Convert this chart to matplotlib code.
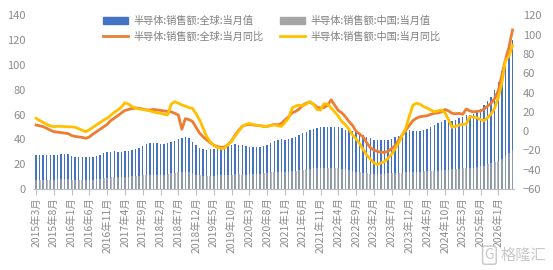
import numpy as np
import pandas as pd
import matplotlib
matplotlib.use("Agg")
import matplotlib.pyplot as plt
from matplotlib.patches import Patch
from matplotlib.lines import Line2D

plt.rcParams['font.family'] = ['Noto Sans CJK SC', 'DejaVu Sans']

# ---------------------------------------------------------------
# Data (monthly, 2015-03 .. 2026-05)
# ---------------------------------------------------------------
months = pd.period_range('2015-03', periods=135, freq='M')

tick_labels = ['2015年3月', '2015年8月', '2016年1月', '2016年6月', '2016年11月',
               '2017年4月', '2017年9月', '2018年2月', '2018年7月', '2018年12月',
               '2019年5月', '2019年10月', '2020年3月', '2020年8月', '2021年1月',
               '2021年6月', '2021年11月', '2022年4月', '2022年9月', '2023年2月',
               '2023年7月', '2023年12月', '2024年5月', '2024年10月', '2025年3月',
               '2025年8月', '2026年1月']

# 半导体:销售额:全球:当月值 (left axis)
global_sales = [
    27.5, 27.4, 27.6, 27.7, 27.5, 27.4, 27.8, 28.3, 28.6, 28.3,
    26.8, 26.0, 25.7, 25.6, 25.8, 25.6, 25.9, 26.6, 27.6, 28.9,
    29.7, 30.2, 30.4, 30.1, 30.0, 30.4, 30.9, 31.5, 32.3, 33.4,
    35.0, 36.3, 37.2, 37.4, 37.1, 36.4, 36.6, 37.4, 38.2, 39.1,
    40.2, 40.8, 41.6, 41.0, 38.0, 35.2, 33.0, 32.2, 31.8, 32.0,
    32.4, 33.2, 33.0, 33.4, 34.5, 35.8, 36.3, 35.9, 35.2, 34.4,
    34.0, 33.8, 33.9, 34.0, 34.5, 35.6, 37.3, 38.6, 39.6, 40.0,
    39.6, 40.3, 41.2, 42.1, 43.4, 44.8, 46.3, 47.5, 48.6, 49.4,
    50.1, 50.3, 50.0, 49.8, 50.2, 50.4, 49.5, 48.0, 47.3, 46.6,
    46.0, 45.2, 43.6, 42.1, 40.9, 39.8, 39.4, 39.3, 39.6, 39.8,
    40.7, 41.9, 42.8, 43.6, 45.8, 47.9, 47.2, 46.8, 47.0, 47.3,
    48.6, 50.1, 51.7, 53.0, 54.2, 56.0, 55.3, 54.6, 55.6, 57.0,
    58.2, 59.5, 59.6, 60.5, 62.8, 64.8, 67.4, 71.0, 74.2, 79.5,
    86.0, 95.5, 103.0, 109.5, 120.0]

# 半导体:销售额:中国:当月值 (left axis)
china_sales = [
    7.3, 7.2, 7.4, 7.5, 7.4, 7.5, 7.7, 7.9, 8.1, 8.0,
    7.6, 7.4, 7.3, 7.2, 7.3, 7.3, 7.4, 7.8, 8.2, 8.6,
    9.0, 9.3, 9.5, 9.5, 9.6, 9.7, 9.9, 10.1, 10.4, 10.7,
    11.0, 11.3, 11.6, 11.7, 11.6, 11.5, 11.7, 12.0, 12.6, 13.2,
    13.7, 14.0, 14.1, 13.6, 12.6, 11.5, 11.0, 10.8, 10.6, 10.7,
    10.8, 11.0, 11.0, 11.2, 11.4, 11.6, 11.8, 11.8, 11.6, 11.6,
    11.8, 12.0, 12.1, 12.3, 12.6, 13.0, 13.4, 13.8, 14.0, 14.0,
    13.9, 14.0, 14.3, 14.6, 15.0, 15.4, 15.8, 16.2, 16.6, 16.8,
    16.9, 17.0, 16.9, 16.8, 16.8, 16.7, 16.4, 15.9, 15.3, 14.7,
    14.1, 13.6, 13.1, 12.7, 12.4, 12.3, 12.3, 12.3, 12.5, 12.6,
    12.7, 12.9, 13.1, 13.3, 13.6, 13.9, 14.0, 14.0, 14.1, 14.2,
    14.3, 14.5, 14.7, 14.9, 15.2, 15.5, 15.7, 15.8, 16.0, 16.4,
    16.6, 16.8, 17.0, 17.3, 17.8, 18.3, 18.9, 19.8, 20.7, 21.5,
    22.8, 24.5, 26.3, 28.8, 31.5]

# 半导体:销售额:全球:当月同比 (right axis, %)
global_yoy = [
    6.4, 5.5, 4.7, 3.0, 1.0, -0.5, -1.0, -1.5, -2.0, -2.5,
    -4.5, -5.5, -6.0, -6.5, -7.4, -6.0, -3.0, -0.5, 2.0, 4.5,
    7.0, 11.0, 13.5, 16.0, 19.0, 21.5, 22.5, 23.5, 24.0, 23.7,
    23.0, 22.0, 22.0, 22.5, 22.0, 21.5, 21.0, 20.5, 20.0, 18.5,
    16.8, 2.0, 13.0, 12.0, 10.0, 4.0, -2.0, -6.0, -9.0, -12.0,
    -14.5, -16.0, -16.7, -16.5, -14.0, -10.0, -4.0, 1.0, 5.0, 6.5,
    7.0, 6.5, 6.0, 5.7, 5.0, 5.0, 6.0, 7.0, 6.5, 8.0,
    11.6, 15.0, 19.0, 20.5, 23.0, 27.0, 29.0, 30.0, 28.0, 25.0,
    24.0, 24.5, 27.0, 32.5, 27.0, 21.5, 19.0, 15.0, 10.0, 6.0,
    0.0, -3.0, -6.0, -12.0, -17.0, -19.5, -21.0, -22.0, -22.0, -21.0,
    -18.0, -15.0, -9.0, -4.0, 1.0, 6.0, 11.0, 13.5, 15.0, 15.5,
    16.0, 17.5, 18.5, 19.0, 20.0, 22.5, 21.0, 18.6, 18.0, 18.5,
    17.5, 23.0, 21.0, 20.0, 20.5, 21.0, 23.0, 26.0, 29.0, 34.0,
    42.0, 58.0, 74.0, 87.0, 105.0]

# 半导体:销售额:中国:当月同比 (right axis, %)
china_yoy = [
    13.4, 11.0, 9.2, 7.0, 5.5, 4.7, 5.0, 5.0, 4.7, 4.5,
    4.5, 4.0, 2.5, 1.0, -0.5, 1.5, 4.0, 6.4, 9.0, 11.5,
    13.4, 16.5, 19.5, 22.0, 25.0, 29.6, 28.0, 25.5, 24.0, 23.0,
    22.5, 22.0, 21.0, 20.0, 19.0, 18.6, 17.5, 16.8, 28.0, 30.6,
    29.0, 27.2, 26.0, 24.5, 23.7, 18.0, 11.6, 3.0, -5.7, -11.0,
    -15.0, -17.0, -18.0, -17.5, -14.0, -10.5, -5.0, 0.0, 5.0, 7.0,
    8.0, 7.0, 6.0, 6.0, 5.0, 5.0, 6.0, 6.5, 5.5, 5.0,
    9.0, 13.4, 24.0, 26.0, 27.0, 26.5, 28.0, 30.6, 28.0, 22.5,
    22.0, 28.5, 28.0, 24.0, 20.0, 15.5, 10.0, 6.5, 2.0, -4.0,
    -8.0, -13.0, -19.0, -24.7, -29.0, -33.0, -34.4, -33.0, -31.6, -28.0,
    -24.0, -18.0, -12.0, -4.0, 3.0, 16.0, 27.0, 29.0, 28.0, 25.4,
    24.0, 22.0, 20.2, 21.0, 22.0, 19.0, 12.0, 4.0, 5.0, 6.4,
    7.0, 7.5, 15.0, 14.5, 14.0, 12.0, 11.0, 14.0, 18.0, 24.0,
    35.0, 50.0, 73.0, 78.0, 89.0]

labels = ['半导体:销售额:全球:当月值', '半导体:销售额:中国:当月值',
          '半导体:销售额:全球:当月同比', '半导体:销售额:中国:当月同比']

# ---------------------------------------------------------------
# Plot
# ---------------------------------------------------------------
x = np.arange(len(months))
grey_txt = '#8c8c8c'

fig = plt.figure(figsize=(5.53, 2.70), dpi=100)
ax = fig.add_axes([0.062, 0.30, 0.868, 0.6426])
ax2 = ax.twinx()

ax.bar(x, global_sales, width=0.42, color='#4472C4', zorder=2)
ax.bar(x, china_sales, width=0.5, color='#A5A5A5', alpha=0.75, zorder=3)
ax2.plot(x, global_yoy, color='#ED7D31', linewidth=2.0, solid_joinstyle='round')
ax2.plot(x, china_yoy, color='#FFC000', linewidth=2.0, solid_joinstyle='round')

ax.set_xlim(-0.5, len(months) - 0.5)
ax.set_ylim(0, 140)
ax2.set_ylim(-60, 120)
ax.set_yticks(np.arange(0, 141, 20))
ax2.set_yticks(np.arange(-60, 121, 20))
ax.set_xticks(np.arange(0, len(months), 5))
ax.set_xticklabels(tick_labels, rotation=90, fontsize=7.5, color=grey_txt)

for a in (ax, ax2):
    for s in a.spines.values():
        s.set_visible(False)
ax.spines['bottom'].set_visible(True)
ax.spines['bottom'].set_color('#bfbfbf')
ax.tick_params(axis='x', length=4, color='#bfbfbf', pad=2)
ax.tick_params(axis='y', length=0, labelsize=8, labelcolor=grey_txt, pad=6)
ax2.tick_params(axis='y', length=0, labelsize=8, labelcolor=grey_txt, pad=6)

handles = [Patch(color='#4472C4'), Line2D([], [], color='#ED7D31', linewidth=2.0),
           Patch(color='#A5A5A5'), Line2D([], [], color='#FFC000', linewidth=2.0)]
leg_labels = [labels[0], labels[2], labels[1], labels[3]]
ax2.legend(handles, leg_labels, ncol=2, frameon=False, fontsize=7.3,
           loc='upper left', bbox_to_anchor=(0.17, 0.975), bbox_transform=fig.transFigure,
           handlelength=2.5, handleheight=0.6, columnspacing=1.6, labelspacing=0.55,
           handletextpad=0.5, labelcolor='#7f7f7f')

# watermark
fig.text(0.885, 0.055, 'G', fontsize=10, color='#c8c8c8', ha='center', va='center',
         bbox=dict(boxstyle='round,pad=0.15', fc='none', ec='#c8c8c8', lw=1))
fig.text(0.905, 0.055, '格隆汇', fontsize=11, color='#c8c8c8', ha='left', va='center')

fig.savefig('out.png', dpi=100)
